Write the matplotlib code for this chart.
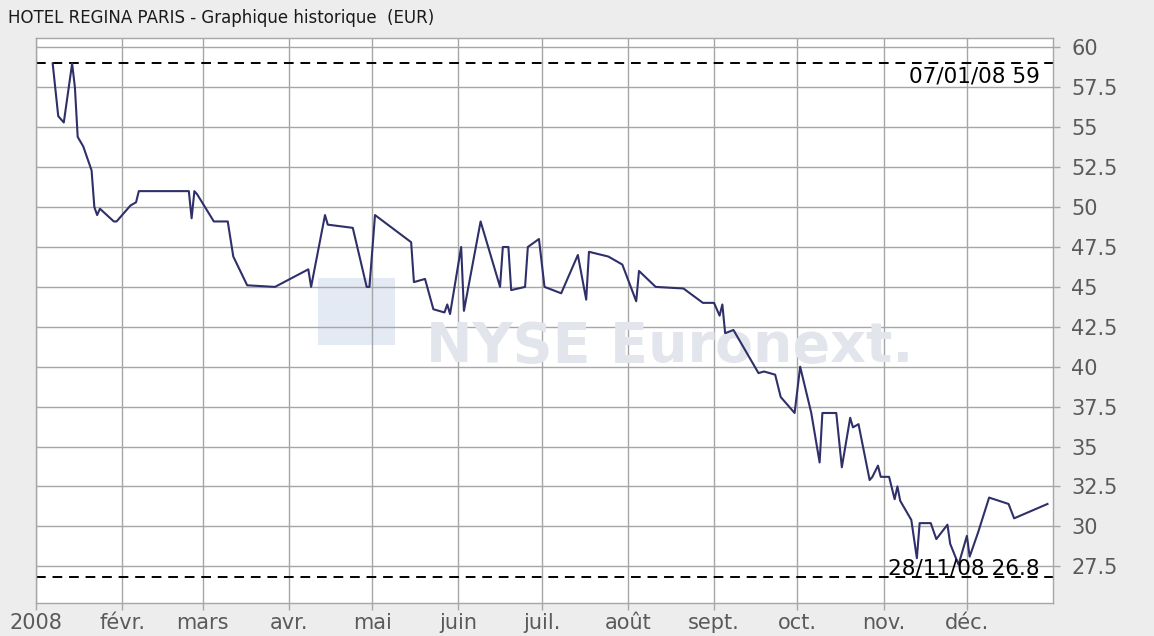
import matplotlib
matplotlib.use("Agg")
import matplotlib.pyplot as plt
from matplotlib.patches import Rectangle
from matplotlib.transforms import blended_transform_factory
import pandas as pd

TITLE = "HOTEL REGINA PARIS - Graphique historique  (EUR)"

dates = [
    "2008-01-07", "2008-01-09", "2008-01-11", "2008-01-14", "2008-01-15", "2008-01-16",
    "2008-01-18", "2008-01-21", "2008-01-22", "2008-01-23", "2008-01-24", "2008-01-29",
    "2008-01-30", "2008-02-04", "2008-02-06", "2008-02-07", "2008-02-25", "2008-02-26",
    "2008-02-27", "2008-02-28", "2008-03-05", "2008-03-10", "2008-03-12", "2008-03-17",
    "2008-03-27", "2008-04-08", "2008-04-09", "2008-04-14", "2008-04-15", "2008-04-24",
    "2008-04-29", "2008-04-30", "2008-05-02", "2008-05-15", "2008-05-16", "2008-05-20",
    "2008-05-23", "2008-05-27", "2008-05-28", "2008-05-29", "2008-06-02", "2008-06-03",
    "2008-06-09", "2008-06-16", "2008-06-17", "2008-06-19", "2008-06-20", "2008-06-25",
    "2008-06-26", "2008-06-30", "2008-07-02", "2008-07-08", "2008-07-14", "2008-07-17",
    "2008-07-18", "2008-07-25", "2008-07-30", "2008-08-04", "2008-08-05", "2008-08-11",
    "2008-08-21", "2008-08-28", "2008-09-01", "2008-09-03", "2008-09-04", "2008-09-05",
    "2008-09-08", "2008-09-17", "2008-09-19", "2008-09-23", "2008-09-25", "2008-09-30",
    "2008-10-02", "2008-10-06", "2008-10-09", "2008-10-10", "2008-10-15", "2008-10-17",
    "2008-10-20", "2008-10-21", "2008-10-23", "2008-10-27", "2008-10-28", "2008-10-30",
    "2008-10-31", "2008-11-03", "2008-11-05", "2008-11-06", "2008-11-07", "2008-11-11",
    "2008-11-13", "2008-11-14", "2008-11-18", "2008-11-20", "2008-11-24", "2008-11-25",
    "2008-11-28", "2008-12-01", "2008-12-02", "2008-12-05", "2008-12-09", "2008-12-16",
    "2008-12-18", "2008-12-30",
]

prices = [
    59.0, 55.7, 55.3, 59.0, 57.5, 54.4,
    53.8, 52.3, 50.0, 49.5, 49.9, 49.1,
    49.1, 50.1, 50.3, 51.0, 51.0, 49.3,
    51.0, 50.8, 49.1, 49.1, 46.9, 45.1,
    45.0, 46.1, 45.0, 49.5, 48.9, 48.7,
    45.0, 45.0, 49.5, 47.8, 45.3, 45.5,
    43.6, 43.4, 43.9, 43.3, 47.5, 43.5,
    49.1, 45.0, 47.5, 47.5, 44.8, 45.0,
    47.5, 48.0, 45.0, 44.6, 47.0, 44.2,
    47.2, 46.9, 46.4, 44.1, 46.0, 45.0,
    44.9, 44.0, 44.0, 43.2, 43.9, 42.1,
    42.3, 39.6, 39.7, 39.5, 38.1, 37.1,
    40.0, 37.1, 34.0, 37.1, 37.1, 33.7,
    36.8, 36.2, 36.4, 32.9, 33.1, 33.8,
    33.1, 33.1, 31.7, 32.5, 31.6, 30.4,
    28.0, 30.2, 30.2, 29.2, 30.1, 28.9,
    27.6, 29.4, 28.1, 29.6, 31.8, 31.4,
    30.5, 31.4,
]

high_value = 59.0
high_label = "07/01/08 59"
low_value = 26.8
low_label = "28/11/08 26.8"

month_labels = ["2008", "févr.", "mars", "avr.", "mai", "juin", "juil.",
                "août", "sept.", "oct.", "nov.", "déc."]
y_ticks = [27.5, 30, 32.5, 35, 37.5, 40, 42.5, 45, 47.5, 50, 52.5, 55, 57.5, 60]


def main():
    x = pd.to_datetime(dates)

    fig = plt.figure(figsize=(11.54, 6.36), dpi=100, facecolor="#ededed")
    ax = fig.add_axes([0.0312, 0.052, 0.8813, 0.8884])
    ax.set_facecolor("white")

    # watermark (logo + text)
    ax.add_patch(Rectangle((0.277, 0.457), 0.076, 0.118, transform=ax.transAxes,
                           facecolor="#e4eaf4", edgecolor="none", zorder=0.5))
    ax.text(0.623, 0.453, "NYSE Euronext.", transform=ax.transAxes,
            ha="center", va="center", fontsize=40, fontweight="bold",
            color="#e2e6ec", zorder=0.6)

    grid_color = "#a6a6a6"
    ax.grid(True, color=grid_color, linewidth=1.0, zorder=1)
    ax.set_axisbelow(True)

    ax.plot(x, prices, color="#2f2f6a", linewidth=1.5, zorder=3)

    ax.axhline(high_value, color="black", linewidth=1.4, linestyle=(0, (5, 3.5)), zorder=2)
    ax.axhline(low_value, color="black", linewidth=1.4, linestyle=(0, (5, 3.5)), zorder=2)

    trans = blended_transform_factory(ax.transAxes, ax.transData)
    ax.annotate(high_label, xy=(0.987, high_value), xycoords=trans,
                xytext=(0, -2), textcoords="offset points",
                ha="right", va="top", fontsize=15.5, color="black", zorder=4)
    ax.annotate(low_label, xy=(0.987, low_value), xycoords=trans,
                xytext=(0, -1), textcoords="offset points",
                ha="right", va="bottom", fontsize=15.5, color="black", zorder=4)

    ax.set_xlim(pd.Timestamp("2008-01-01"), pd.Timestamp("2009-01-01"))
    ax.set_ylim(25.2, 60.6)

    month_starts = pd.date_range("2008-01-01", periods=12, freq="MS")
    ax.set_xticks(month_starts)
    ax.set_xticklabels(month_labels)
    ax.set_yticks(y_ticks)
    ax.set_yticklabels([f"{v:g}" for v in y_ticks])

    ax.yaxis.tick_right()
    ax.tick_params(axis="y", direction="out", length=5, width=1, color=grid_color,
                   labelsize=15, labelcolor="#5a5a5a", pad=8)
    ax.tick_params(axis="x", direction="out", length=5, width=1, color=grid_color,
                   labelsize=15, labelcolor="#5a5a5a", pad=2)
    for s in ax.spines.values():
        s.set_color(grid_color)
        s.set_linewidth(1.0)

    fig.text(8 / 1154, 1 - 18 / 636, TITLE, ha="left", va="center",
             fontsize=12, color="#1a1a1a")

    fig.savefig("out.png", dpi=100, facecolor=fig.get_facecolor())


if __name__ == "__main__":
    main()
